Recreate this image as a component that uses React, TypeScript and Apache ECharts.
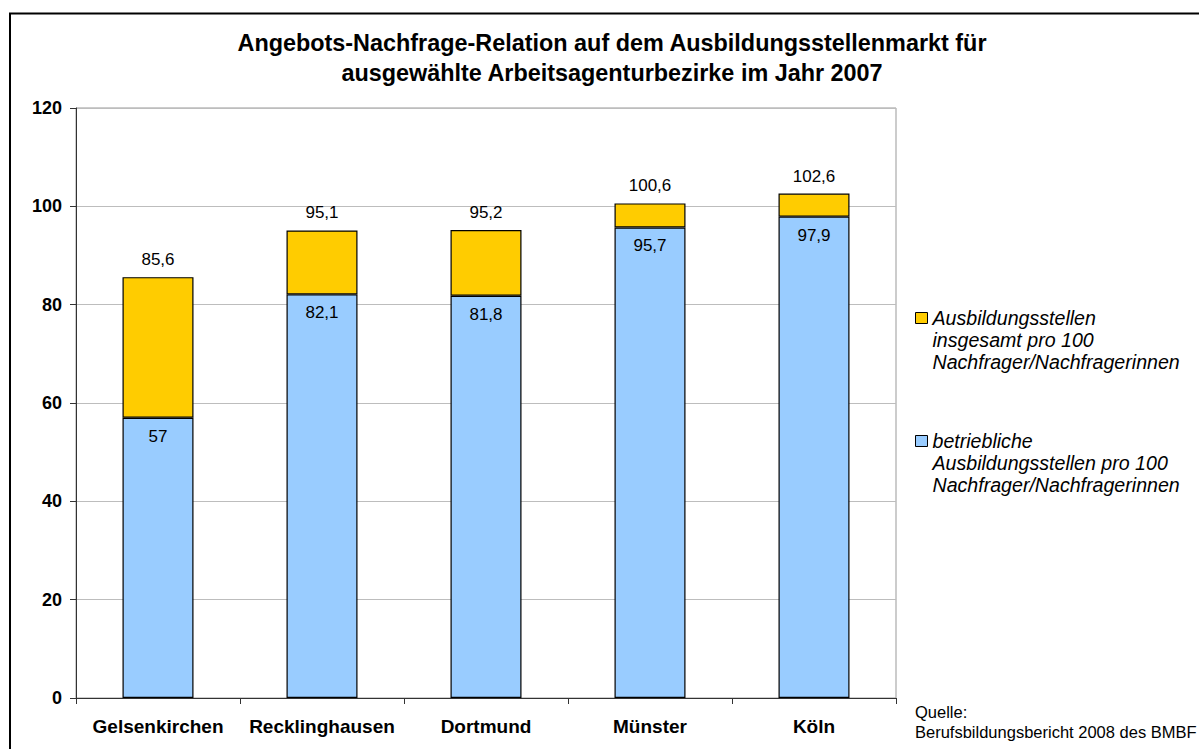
import React, { useEffect, useRef } from "react";
import * as echarts from "echarts";

const categories = ["Gelsenkirchen", "Recklinghausen", "Dortmund", "Münster", "Köln"];
const betrieblich = [57, 82.1, 81.8, 95.7, 97.9];
const insgesamt = [85.6, 95.1, 95.2, 100.6, 102.6];
const yTicks = { min: 0, max: 120, interval: 20 };
const nameInsgesamt = "Ausbildungsstellen insgesamt pro 100 Nachfrager/Nachfragerinnen";
const nameBetrieb = "betriebliche Ausbildungsstellen pro 100 Nachfrager/Nachfragerinnen";
const legendLines: Record<string, string> = {
  [nameInsgesamt]: "Ausbildungsstellen\ninsgesamt pro 100\nNachfrager/Nachfragerinnen",
  [nameBetrieb]: "betriebliche\nAusbildungsstellen pro 100\nNachfrager/Nachfragerinnen",
};

const FONT = "'Liberation Sans', Arial, Helvetica, sans-serif";
const fmt = (v: number) => String(v).replace(".", ",");

export default function App() {
  const ref = useRef<HTMLDivElement>(null);
  useEffect(() => {
    document.body.style.margin = "0";
    const chart = echarts.init(ref.current!, null, { renderer: "svg" });
    const diff = insgesamt.map((t, i) => Math.round((t - betrieblich[i]) * 10) / 10);
    chart.setOption({
      animation: false,
      backgroundColor: "#ffffff",
      textStyle: { fontFamily: FONT },
      title: {
        text: "Angebots-Nachfrage-Relation auf dem Ausbildungsstellenmarkt für\nausgewählte Arbeitsagenturbezirke im Jahr 2007",
        left: 612,
        top: 28,
        textAlign: "center",
        padding: 0,
        textStyle: { fontFamily: FONT, fontSize: 23.4, fontWeight: "bold", color: "#000", lineHeight: 30 },
      },
      legend: {
        orient: "vertical",
        left: 915,
        top: 263,
        padding: 0,
        itemGap: 13,
        itemWidth: 12,
        itemHeight: 11,
        icon: "rect",
        selectedMode: false,
        data: [nameInsgesamt, nameBetrieb],
        formatter: (n: string) => "\u00a0\n\u00a0\n" + (legendLines[n] || n),
        itemStyle: { borderColor: "#000", borderWidth: 1 },
        textStyle: {
          fontFamily: FONT,
          fontSize: 19.6,
          fontStyle: "italic",
          color: "#000",
          lineHeight: 22,
        },
      },
      grid: {
        left: 76,
        right: 303,
        top: 108,
        bottom: 51,
        show: true,
        borderColor: "#999",
        borderWidth: 1,
        backgroundColor: "transparent",
      },
      xAxis: {
        type: "category",
        data: categories,
        axisLine: { lineStyle: { color: "#333", width: 1 } },
        axisTick: { show: true, length: 6, lineStyle: { color: "#333" } },
        axisLabel: { interval: 0, margin: 19, fontFamily: FONT, fontSize: 19, fontWeight: "bold", color: "#000" },
      },
      yAxis: {
        type: "value",
        min: yTicks.min,
        max: yTicks.max,
        interval: yTicks.interval,
        axisLine: { show: true, lineStyle: { color: "#333", width: 1 } },
        axisTick: { show: true, length: 6, lineStyle: { color: "#333" } },
        axisLabel: { margin: 14, fontFamily: FONT, fontSize: 18, fontWeight: "bold", color: "#000" },
        splitLine: { lineStyle: { color: "#bdbdbd", width: 1 } },
      },
      series: [
        {
          name: nameBetrieb,
          type: "bar",
          stack: "total",
          barWidth: 71,
          data: betrieblich,
          itemStyle: { color: "#99ccff", borderColor: "#000", borderWidth: 1.2 },
          label: {
            show: true,
            position: "insideTop",
            distance: 10,
            fontFamily: FONT,
            fontSize: 17,
            color: "#000",
            formatter: (p: any) => fmt(p.value),
          },
        },
        {
          name: nameInsgesamt,
          type: "bar",
          stack: "total",
          barWidth: 71,
          data: diff,
          itemStyle: { color: "#ffcc00", borderColor: "#000", borderWidth: 1.2 },
          label: {
            show: true,
            position: "top",
            distance: 9,
            fontFamily: FONT,
            fontSize: 17,
            color: "#000",
            formatter: (p: any) => fmt(insgesamt[p.dataIndex]),
          },
        },
      ],
      graphic: [
        {
          type: "rect",
          shape: { x: 10, y: 13.5, width: 1300, height: 800 },
          style: { fill: "none", stroke: "#000", lineWidth: 2 },
          silent: true,
        },
        {
          type: "text",
          x: 915,
          y: 702,
          style: {
            text: "Quelle:\nBerufsbildungsbericht 2008 des BMBF",
            fontFamily: FONT,
            fontSize: 16.5,
            lineHeight: 20,
            fill: "#000",
          },
        },
      ],
    });
    return () => chart.dispose();
  }, []);
  return <div ref={ref} style={{ width: 1199, height: 749 }} />;
}
